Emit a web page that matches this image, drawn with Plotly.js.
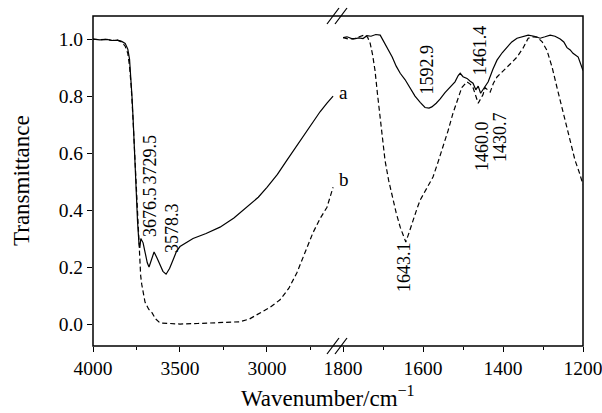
<!DOCTYPE html>
<html>
<head>
<meta charset="utf-8">
<script src="https://cdn.plot.ly/plotly-3.0.1.min.js"></script>
<style>html,body{margin:0;padding:0;background:#fff;}#chart{width:602px;height:413px;}</style>
</head>
<body>
<div id="chart"></div>
<script>
// Curve a (solid), high-wavenumber segment
const aHighWn = [4000,3960,3920,3890,3860,3835,3815,3800,3790,3782,3775,3768,3760,3752,3744,3736,3731,3725,3712,3700,3688,3678,3665,3649,3632,3615,3598,3580,3560,3540,3520,3500,3460,3425,3350,3270,3190,3115,3050,3000,2940,2885,2830,2770,2730,2695,2655,2620];
const aHighT  = [1.000,0.997,0.999,0.995,0.996,0.992,0.985,0.965,0.930,0.870,0.790,0.700,0.580,0.460,0.360,0.285,0.267,0.300,0.285,0.250,0.215,0.200,0.228,0.253,0.232,0.205,0.185,0.175,0.195,0.225,0.255,0.272,0.288,0.300,0.318,0.340,0.372,0.410,0.445,0.480,0.525,0.575,0.625,0.680,0.715,0.745,0.775,0.800];
// Curve b (dashed), high-wavenumber segment
const bHighWn = [4000,3960,3920,3890,3860,3835,3815,3800,3790,3780,3770,3760,3750,3741,3733,3726,3720,3712,3701,3680,3661,3640,3615,3560,3500,3400,3300,3200,3155,3100,3040,2980,2925,2875,2828,2780,2736,2695,2655,2620];
const bHighT  = [1.000,0.998,0.999,0.995,0.996,0.990,0.975,0.950,0.905,0.830,0.720,0.590,0.450,0.330,0.230,0.170,0.140,0.110,0.077,0.052,0.040,0.018,0.004,0.002,0.000,0.002,0.004,0.006,0.008,0.018,0.038,0.060,0.085,0.125,0.180,0.250,0.320,0.370,0.410,0.480];
// Curve a (solid), low-wavenumber segment
const aLowWn = [1800,1790,1775,1760,1750,1740,1730,1718,1707,1695,1686,1677,1667,1657,1645,1632,1620,1607,1595,1585,1578,1567,1557,1545,1532,1520,1512,1507,1500,1490,1482,1475,1468,1462,1456,1450,1443,1437,1425,1415,1402,1390,1378,1365,1350,1337,1322,1307,1295,1282,1270,1257,1248,1240,1232,1225,1212,1200];
const aLowT  = [1.005,1.008,1.000,1.004,1.002,1.012,1.010,1.016,1.014,0.985,0.962,0.937,0.905,0.880,0.858,0.830,0.800,0.778,0.760,0.758,0.762,0.775,0.790,0.812,0.830,0.850,0.872,0.880,0.868,0.862,0.852,0.845,0.822,0.835,0.810,0.822,0.835,0.850,0.895,0.926,0.952,0.972,0.990,1.003,1.010,1.014,1.010,1.003,1.008,1.014,1.010,1.000,0.990,0.970,0.962,0.950,0.937,0.890];
// Curve b (dashed), low-wavenumber segment
const bLowWn = [1800,1785,1770,1755,1745,1738,1732,1726,1720,1714,1707,1700,1695,1686,1677,1667,1657,1648,1643,1635,1625,1615,1607,1597,1587,1575,1562,1550,1537,1525,1513,1503,1490,1482,1475,1468,1462,1456,1450,1445,1438,1432,1424,1415,1402,1390,1378,1365,1350,1337,1325,1315,1302,1290,1277,1265,1252,1240,1230,1220,1210,1200];
const bLowT  = [1.005,1.000,1.003,1.010,1.015,1.005,0.985,0.945,0.890,0.810,0.716,0.630,0.575,0.505,0.446,0.390,0.340,0.305,0.288,0.320,0.365,0.405,0.435,0.462,0.488,0.516,0.570,0.620,0.680,0.740,0.790,0.830,0.850,0.842,0.830,0.800,0.775,0.790,0.805,0.830,0.822,0.814,0.845,0.867,0.885,0.900,0.918,0.937,0.968,1.003,1.008,1.007,0.990,0.960,0.900,0.830,0.755,0.680,0.625,0.575,0.535,0.490];

const peakLabels = ['3729.5','3676.5','3578.3','1643.1','1592.9','1461.4','1460.0','1430.7'];
const peakWn     = [3672,3672,3546,1647.5,1590,1457.5,1452.5,1407.5];
const peakT      = [0.578,0.393,0.337,0.200,0.893,0.961,0.625,0.656];
const peakAxis   = ['x','x','x','x2','x2','x2','x2','x2'];

const FONT = 'Liberation Serif';
const solid = {color:'#000', width:1.2};
const dashed = {color:'#000', width:1.2, dash:'5px,3px'};

const traces = [
  {x:aHighWn, y:aHighT, xaxis:'x', yaxis:'y', mode:'lines', line:solid, hoverinfo:'skip'},
  {x:bHighWn, y:bHighT, xaxis:'x', yaxis:'y', mode:'lines', line:dashed, hoverinfo:'skip'},
  {x:aLowWn, y:aLowT, xaxis:'x2', yaxis:'y', mode:'lines', line:solid, hoverinfo:'skip'},
  {x:bLowWn, y:bLowT, xaxis:'x2', yaxis:'y', mode:'lines', line:dashed, hoverinfo:'skip'}
];

const tickFont = {family:FONT, size:19.5, color:'#000'};
const W = 490, H = 330;
const breakX = [(333-93)/W, (341-93)/W];
const dx = 6/W, dy = 8/H;
const shapes = [{type:'rect', xref:'paper', yref:'paper', x0:0, x1:1, y0:0, y1:1, line:{color:'#000', width:1.5}}];
breakX.forEach(bx => {
  [0,1].forEach(by => {
    shapes.push({type:'line', xref:'paper', yref:'paper', x0:bx-dx, x1:bx+dx, y0:by-dy, y1:by+dy, line:{color:'#000', width:1.2}});
  });
});

const annotations = peakLabels.map((t,i) => ({
  text:t, x:peakWn[i], y:peakT[i], xref:peakAxis[i], yref:'y', textangle:-90,
  showarrow:false, xanchor:'center', yanchor:'middle', font:{family:FONT, size:18, color:'#000'}
}));
annotations.push({text:'a', xref:'paper', yref:'paper', x:(343.5-93)/W, y:(346-93)/H, showarrow:false, xanchor:'center', yanchor:'middle', font:{family:FONT, size:19, color:'#000'}});
annotations.push({text:'b', xref:'paper', yref:'paper', x:(344-93)/W, y:(346-179)/H, showarrow:false, xanchor:'center', yanchor:'middle', font:{family:FONT, size:19, color:'#000'}});
annotations.push({text:'Wavenumber/cm<sup>\u22121</sup>', xref:'paper', yref:'paper', x:(328-93)/W, y:0, yshift:-67, showarrow:false, xanchor:'center', yanchor:'bottom', font:{family:FONT, size:23, color:'#000'}});
annotations.push({text:'Transmittance', xref:'paper', yref:'paper', x:0, xshift:-72, y:0.5, textangle:-90, showarrow:false, xanchor:'center', yanchor:'middle', font:{family:FONT, size:23, color:'#000'}});

const split = (343-93)/W;
const layout = {
  width:602, height:413,
  margin:{l:93, r:19, t:16, b:67, pad:0},
  paper_bgcolor:'#fff', plot_bgcolor:'#fff',
  showlegend:false,
  font:{family:FONT, color:'#000'},
  xaxis:{domain:[0, split], range:[4000, 2563], tick0:0, dtick:500, ticks:'outside', ticklen:5, tickwidth:1, tickcolor:'#000',
         minor:{ticks:'outside', ticklen:3, tickwidth:1, tickcolor:'#000', tick0:0, dtick:250}, ticklabeloverflow:'allow',
         showgrid:false, zeroline:false, showline:false, tickfont:tickFont, anchor:'y', fixedrange:true},
  xaxis2:{domain:[split, 1], range:[1800.01, 1199.99], tick0:0, dtick:200, ticks:'outside', ticklen:5, tickwidth:1, tickcolor:'#000',
         minor:{ticks:'outside', ticklen:3, tickwidth:1, tickcolor:'#000', tick0:0, dtick:100}, ticklabeloverflow:'allow',
         showgrid:false, zeroline:false, showline:false, tickfont:tickFont, anchor:'y', fixedrange:true},
  yaxis:{range:[-0.077, 1.081], tick0:0, dtick:0.2, tickformat:'.1f', ticks:'outside', ticklen:5, tickwidth:1, tickcolor:'#000',
         showgrid:false, zeroline:false, showline:false, tickfont:tickFont, anchor:'x', fixedrange:true},
  shapes:shapes,
  annotations:annotations
};

Plotly.newPlot('chart', traces, layout, {staticPlot:true, displayModeBar:false});
</script>
</body>
</html>
